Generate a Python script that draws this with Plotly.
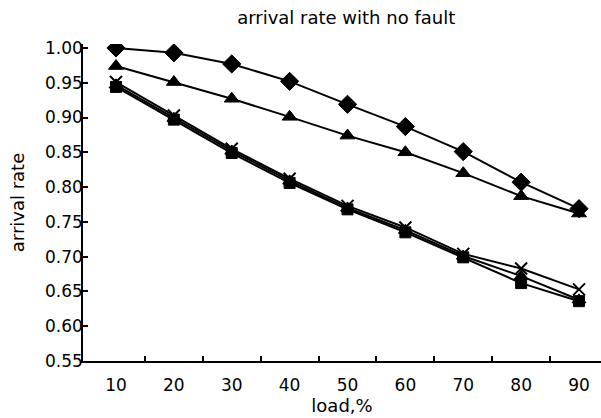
import plotly.graph_objects as go

load = [10, 20, 30, 40, 50, 60, 70, 80, 90]
diamond_series = [1.000, 0.993, 0.977, 0.952, 0.919, 0.887, 0.851, 0.807, 0.769]
triangle_series = [0.974, 0.951, 0.927, 0.901, 0.874, 0.850, 0.820, 0.787, 0.762]
triangle2_series = [0.947, 0.899, 0.852, 0.809, 0.770, 0.738, 0.701, 0.672, 0.638]
square_series = [0.944, 0.897, 0.849, 0.806, 0.768, 0.735, 0.699, 0.662, 0.636]
cross_series = [0.951, 0.903, 0.855, 0.812, 0.773, 0.742, 0.704, 0.683, 0.653]

y_ticks = [0.55, 0.60, 0.65, 0.70, 0.75, 0.80, 0.85, 0.90, 0.95, 1.00]
x_ticks = [10, 20, 30, 40, 50, 60, 70, 80, 90]
x_minor = [15, 25, 35, 45, 55, 65, 75, 85]

FONT = "DejaVu Sans, sans-serif"

fig = go.Figure()

def add(y, symbol, size, lw=2):
    fig.add_trace(go.Scatter(
        x=load, y=y, mode="lines+markers",
        line=dict(color="black", width=lw),
        marker=dict(symbol=symbol, size=size, color="black",
                    line=dict(color="black", width=1)),
        showlegend=False))

add(triangle2_series, "triangle-up", 12)
add(square_series, "square", 11)
fig.add_trace(go.Scatter(x=load, y=cross_series, mode="lines+markers",
                         line=dict(color="black", width=2),
                         marker=dict(symbol="x-thin-open", size=12, color="black",
                                     line=dict(color="black", width=2)),
                         showlegend=False))
add(triangle_series, "triangle-up", 13)
add(diamond_series, "diamond", 14)

fig.update_layout(
    width=601, height=418,
    margin=dict(l=83, r=0, t=44, b=57),
    paper_bgcolor="white", plot_bgcolor="white",
    font=dict(family=FONT, color="black", size=17),
    title=dict(text="arrival rate with no fault", x=0.576, xref="container",
               y=0.958, yref="container", xanchor="center", yanchor="middle",
               font=dict(size=18, family=FONT, color="black")),
)
fig.update_xaxes(
    range=[4.3, 93.8], showgrid=False, zeroline=False, automargin=False,
    showline=True, linecolor="black", linewidth=1.5,
    tickmode="array", tickvals=x_ticks, ticktext=[str(v) for v in x_ticks],
    ticks="", ticklabelstandoff=8,
    minor=dict(tickvals=x_minor, ticks="inside", ticklen=5, tickcolor="black", tickwidth=1.5),
    title=dict(text="load,%", standoff=4, font=dict(size=18, color="black")),
)
fig.update_yaxes(
    range=[0.55, 1.0057], showgrid=False, zeroline=False, automargin=False,
    showline=True, linecolor="black", linewidth=1.5,
    tickmode="array", tickvals=y_ticks, ticktext=[f"{v:.2f}" for v in y_ticks],
    ticks="inside", ticklen=5, tickcolor="black", tickwidth=1.5,
    ticklabelstandoff=-5,
    title=dict(text="arrival rate", standoff=16, font=dict(size=18, color="black")),
)

fig.write_html(
    "out.html",
    config={"displayModeBar": False},
    post_script="document.body.style.margin='0px';document.body.style.overflow='hidden';",
)
